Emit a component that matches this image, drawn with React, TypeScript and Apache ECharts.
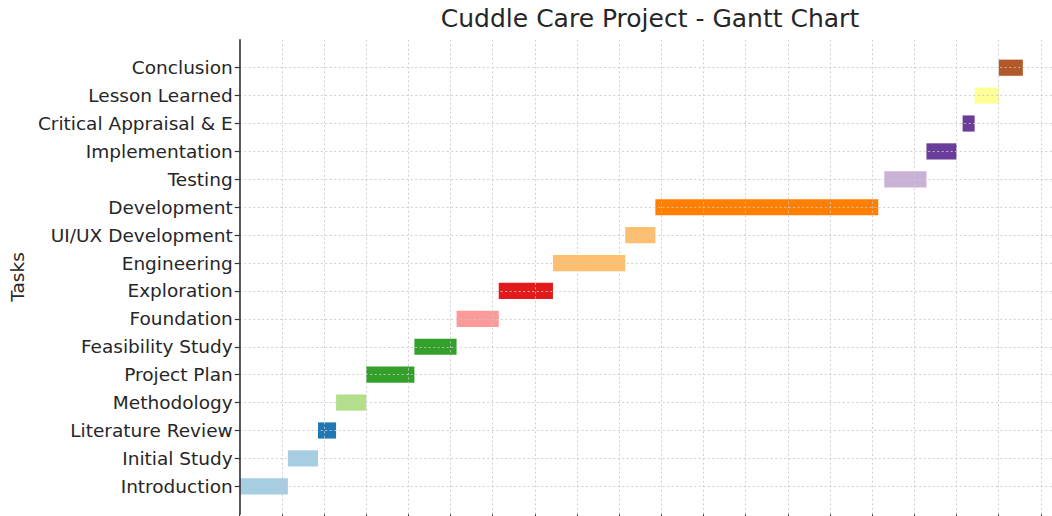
import React, { useEffect, useRef } from "react";
import * as echarts from "echarts";

// Tasks, bottom to top
const tasks = [
  "Introduction",
  "Initial Study",
  "Literature Review",
  "Methodology",
  "Project Plan",
  "Feasibility Study",
  "Foundation",
  "Exploration",
  "Engineering",
  "UI/UX Development",
  "Development",
  "Testing",
  "Implementation",
  "Critical Appraisal & E",
  "Lesson Learned",
  "Conclusion",
];
// Start / end in days from project start
const startDays = [0, 8, 13, 16, 21, 29, 36, 43, 52, 64, 69, 107, 114, 120, 122, 126];
const endDays = [8, 13, 16, 21, 29, 36, 43, 52, 64, 69, 106, 114, 119, 122, 126, 130];
const barColors = [
  "#a6cee3", "#a6cee3", "#1f78b4", "#b2df8a", "#33a02c", "#33a02c",
  "#fb9a99", "#e31a1c", "#fdbf6f", "#fdbf6f", "#ff7f00", "#cab2d6",
  "#6a3d9a", "#6a3d9a", "#ffff99", "#b15928",
];
const titleText = "Cuddle Care Project - Gantt Chart";
const yAxisName = "Tasks";

export default function App() {
  const ref = useRef<HTMLDivElement>(null);
  useEffect(() => {
    if (!ref.current) return;
    const chart = echarts.init(ref.current, undefined, { renderer: "svg" });
    const axisCats = ["", ...tasks, ""];
    const lastIdx = axisCats.length - 1;
    const data = tasks.map((t, i) => ({
      name: t,
      value: [i + 1, startDays[i], endDays[i]],
      itemStyle: { color: barColors[i] },
    }));
    const gridColor = "rgba(200,200,200,0.85)";
    chart.setOption({
      animation: false,
      title: {
        text: titleText,
        left: 650,
        top: 6,
        padding: 0,
        textAlign: "center",
        textStyle: {
          fontFamily: "DejaVu Sans",
          fontSize: 25,
          fontWeight: "normal",
          color: "#262626",
        },
      },
      grid: { left: 237, top: 39.8, width: 825, height: 474.4, containLabel: false },
      xAxis: {
        type: "value",
        min: 0,
        max: 136.5,
        interval: 7,
        z: 5,
        axisLine: { show: false },
        axisTick: { show: true, length: 5, lineStyle: { color: "#333", width: 1 } },
        axisLabel: { show: false },
        splitLine: {
          show: true,
          lineStyle: { color: gridColor, type: [2, 2.5], width: 1 },
        },
      },
      yAxis: {
        type: "category",
        data: axisCats,
        boundaryGap: false,
        z: 5,
        name: yAxisName,
        nameLocation: "middle",
        nameGap: 208,
        nameRotate: 90,
        nameTextStyle: { fontFamily: "DejaVu Sans", fontSize: 18.5, color: "#262626" },
        axisLine: { show: true, lineStyle: { color: "#333", width: 1.6 } },
        axisTick: {
          show: true,
          length: 5,
          interval: (idx: number) => idx !== 0 && idx !== lastIdx,
          lineStyle: { color: "#333", width: 1.2 },
        },
        axisLabel: {
          show: true,
          interval: 0,
          margin: 7,
          fontFamily: "DejaVu Sans",
          fontSize: 18.5,
          color: "#262626",
        },
        splitLine: {
          show: true,
          interval: (idx: number) => idx !== 0 && idx !== lastIdx,
          lineStyle: { color: gridColor, type: [2, 2.5], width: 1 },
        },
      },
      series: [
        {
          type: "custom",
          z: 2,
          encode: { x: [1, 2], y: 0 },
          renderItem: (params: any, api: any) => {
            const y = api.value(0);
            const p0 = api.coord([api.value(1), y]);
            const p1 = api.coord([api.value(2), y]);
            const h = api.size([0, 1])[1] * 0.58;
            return {
              type: "rect",
              shape: { x: p0[0], y: p0[1] - h / 2, width: p1[0] - p0[0], height: h },
              style: { fill: api.visual("color") },
            };
          },
          data,
        },
      ],
    });
    return () => chart.dispose();
  }, []);
  return (
    <div
      style={{
        position: "fixed",
        left: 0,
        top: 0,
        width: 1052,
        height: 516,
        overflow: "hidden",
        background: "#fff",
      }}
    >
      <div ref={ref} style={{ width: 1080, height: 516 }} />
    </div>
  );
}
